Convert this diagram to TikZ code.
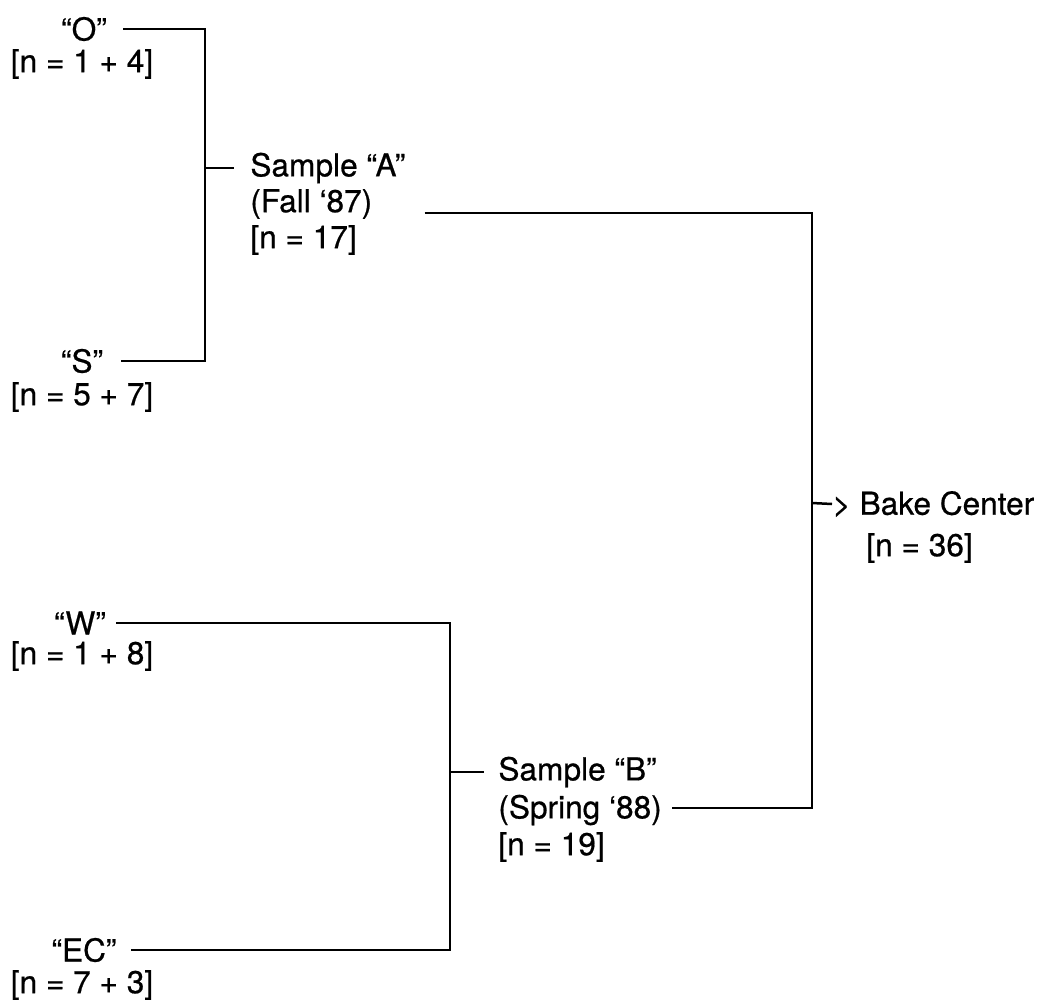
\documentclass[tikz,border=0pt]{standalone}
\usepackage{fontspec}
\setmainfont{TeX Gyre Heros}[FakeBold=0.6]
\usetikzlibrary{calc}

\begin{document}
\begin{tikzpicture}[x=0.5pt,y=-0.5pt,
  LabelTxt/.style={inner sep=0pt,font=\fontsize{15.8}{18}\selectfont},
  BranchLn/.style={line width=1.25pt,line join=miter}]
\useasboundingbox (0,0) rectangle (1052,1005);

% branch points
\coordinate (jA) at (205,168);
\coordinate (jB) at (450,772);
\coordinate (jC) at (812,503);

% field groups
\node[LabelTxt] (o) at (84,29) {“O”};
\node[LabelTxt] (no) at (82,64) {[n = 1 + 4]};
\node[LabelTxt] (s) at (82,361) {“S”};
\node[LabelTxt] (ns) at (82,397) {[n = 5 + 7]};
\node[LabelTxt] (w) at (80,623) {“W”};
\node[LabelTxt] (nw) at (82,656) {[n = 1 + 8]};
\node[LabelTxt] (ec) at (84,950) {“EC”};
\node[LabelTxt] (nec) at (82,985) {[n = 7 + 3]};

% samples
\node[LabelTxt,anchor=west] (sampleA) at (250,168) {Sample “A”};
\node[LabelTxt,anchor=west] (fallA) at (250,204) {(Fall ‘87)};
\node[LabelTxt,anchor=west] (nA) at (250,240) {[n = 17]};

\node[LabelTxt,anchor=west] (sampleB) at (498,772) {Sample “B”};
\node[LabelTxt,anchor=west] (springB) at (498,810) {(Spring ‘88)};
\node[LabelTxt,anchor=west] (nB) at (498,847) {[n = 19]};

\node[LabelTxt,anchor=west] (bake) at (832,504) {> Bake Center};
\node[LabelTxt,anchor=west] (nC) at (866,548) {[n = 36]};

% brackets
\draw[BranchLn] ([xshift=8pt]o.east) -| (jA) |- ([xshift=9pt]s.east);
\draw[BranchLn] (jA) -- ([xshift=-8pt]sampleA.west);

\draw[BranchLn] ([xshift=5pt]w.east) -| (jB) |- ([xshift=7pt]ec.east);
\draw[BranchLn] (jB) -- ([xshift=-7pt]sampleB.west);

\draw[BranchLn] ([xshift=26pt,yshift=-4.5pt]fallA.east) -| (jC)
  |- ([xshift=5pt,yshift=1pt]springB.east);
\draw[BranchLn] (jC) -- (bake.west);

\end{tikzpicture}
\end{document}
